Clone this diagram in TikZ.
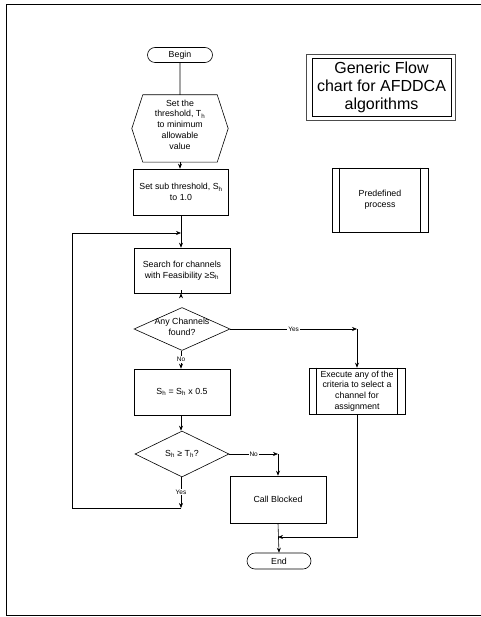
\documentclass[tikz,border=0pt]{standalone}
\usepackage{fontspec}
\setmainfont{Liberation Sans}
\usetikzlibrary{shapes.geometric,shapes.misc,calc,arrows.meta}
\newcommand\mySh{S\textsubscript{h}}
\newcommand\myTh{T\textsubscript{h}}
\begin{document}
\begin{tikzpicture}[x=1pt,y=-1pt,
  every node/.style={font=\fontsize{8.8}{10.8}\selectfont, align=center, inner sep=0pt},
  proc/.style={draw, line width=0.6pt, minimum width=96pt, minimum height=46pt},
  term/.style={draw, rounded rectangle, line width=0.6pt, minimum width=65pt, minimum height=15pt},
  dec/.style={draw, diamond, line width=0.6pt, minimum width=96pt, minimum height=43pt},
  lab/.style={fill=white, font=\fontsize{6.5}{7}\selectfont, inner sep=1pt},
  arr/.style={-{Stealth[length=5pt,width=4pt]}},
  conn/.style={line width=0.6pt}]
\useasboundingbox (0,0) rectangle (480,617);
% outer frame
\draw[line width=0.9pt] (484,4) -- (6,4) -- (6,615) -- (484,615);

% nodes
\node[term] (begin) at (180,55) {Begin};
\node[minimum width=96pt, minimum height=67pt] (hex) at (180,128.5) {};
\draw[line width=0.6pt] (hex.west) -- ($(hex.north west)+(11,0)$) -- ($(hex.north east)+(-11,0)$) -- (hex.east) -- ($(hex.south east)+(-11,0)$) -- ($(hex.south west)+(11,0)$) -- cycle;
\node (hextxt) at (180,124.5) {Set the\\threshold, \myTh\\to minimum\\allowable\\value};
\node[proc, minimum width=95pt] (set) at (181,192) {Set sub threshold, \mySh\\to 1.0};
\node[proc, minimum height=45pt] (search) at (182,270.5) {Search for channels\\with Feasibility ≥\mySh};
\node[dec, label={[align=center,yshift=2.5pt]center:Any Channels\\found?}] (d1) at (182,329) {};
\node[proc] (shb) at (182,392) {\mySh{} = \mySh{} x 0.5};
\node[dec, minimum width=94pt, minimum height=46pt, label={center:\mySh{} ≥ \myTh?}] (d2) at (182,454) {};
\node[proc, minimum height=47pt] (blocked) at (278,499.5) {Call Blocked};
\node[term, minimum width=64pt, minimum height=16pt] (end) at (279,561) {End};
\node[proc] (exec) at (357,391) {Execute any of the\\criteria to select a\\channel for\\assignment};
\draw[line width=0.6pt] ($(exec.north west)+(8,0)$) -- ($(exec.south west)+(8,0)$);
\draw[line width=0.6pt] ($(exec.north east)+(-8,0)$) -- ($(exec.south east)+(-8,0)$);
\node[draw, line width=0.8pt, minimum width=139pt, minimum height=58pt, font=\fontsize{16}{18}\selectfont] (title) at (381.5,87) {Generic Flow\\chart for AFDDCA\\algorithms};
\draw[line width=0.6pt, black!70] ($(title.north west)+(-5,-3)$) rectangle ($(title.south east)+(4,4)$);
\node[proc, minimum height=64pt] (pre) at (380,200) {Predefined\\process};
\draw[line width=0.6pt] ($(pre.north west)+(8,0)$) -- ($(pre.south west)+(8,0)$);
\draw[line width=0.6pt] ($(pre.north east)+(-8,0)$) -- ($(pre.south east)+(-8,0)$);

% coordinates
\coordinate (c1) at (181,508);
\coordinate (c2) at (72,508);
\coordinate (c3) at (72,233);
\coordinate (c4) at (181,233);
\coordinate (c5) at (357,329);
\coordinate (c6) at (278,454);
\coordinate (c7) at (278,537);

% connectors
\draw[conn] (begin) -- (hex);
\draw[conn,arr] (hex.south) -- (hex.south |- set.north);
\draw[conn,arr] (set.south) -- (set.south |- search.north);
\draw[conn,arr] (search.south -| set.south) -- (search.south -| set.south |- d1.north);
\draw[conn,arr] (d1.south -| set.south) -- node[lab]{No} (set.south |- shb.north);
\draw[conn,arr] (shb.south -| set.south) -- (set.south |- d2.north);
\draw[conn,arr] (d2.south -| set.south) -- node[lab,pos=0.48]{Yes} (c1);
\draw[conn,arr] (c1) -- (c2) -- (c3) -- (c4);
\draw[conn,arr] (d1.east) -- node[lab]{Yes} (c5);
\draw[conn,arr] (c5) -- (exec.north);
\draw[conn,arr] (d2.east) -- node[lab]{No} (c6);
\draw[conn,arr] (c6) -- (blocked.north);
\draw[conn,arr] (blocked.south) -- (end.north);
\draw[conn,arr] (exec.south) |- (c7);
\end{tikzpicture}
\end{document}
